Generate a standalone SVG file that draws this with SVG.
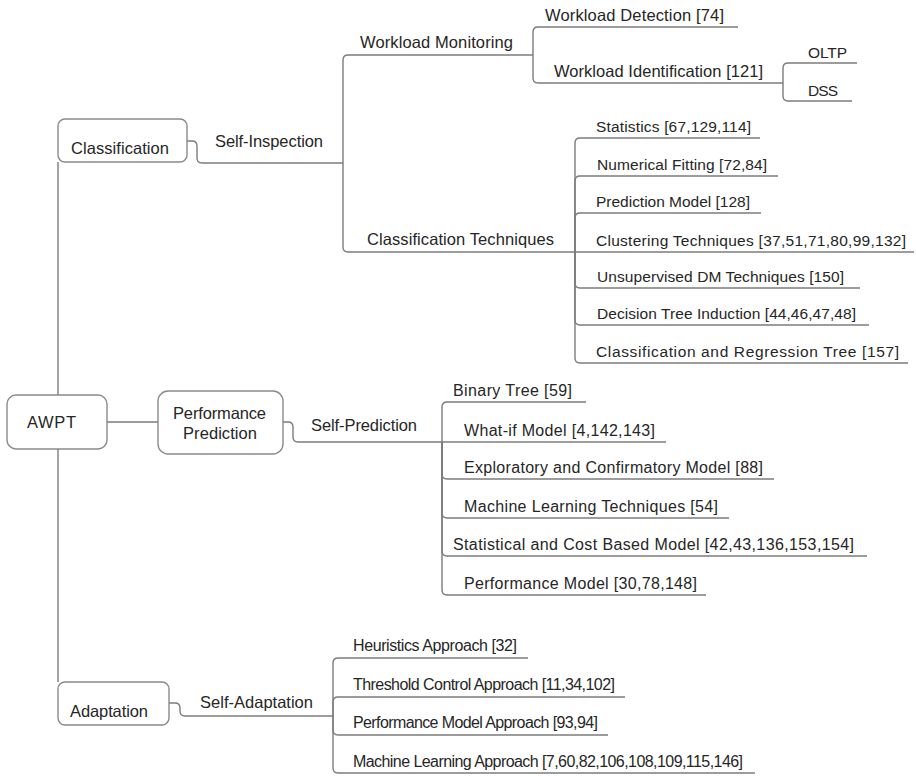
<svg xmlns="http://www.w3.org/2000/svg" width="916" height="776" viewBox="0 0 916 776">
  <style>
    .bg { fill: #ffffff; }
    .box { fill: #ffffff; stroke: #8a8a8a; stroke-width: 1.4; }
    .link { fill: none; stroke: #7c7c7c; stroke-width: 1.4; }
    text { font-family: "Liberation Sans", Arial, sans-serif; fill: #262626; }
    .main { font-size: 16.5px; }
    .leaf { font-size: 15.5px; }
    .mid { font-size: 16px; }
  </style>
  <rect class="bg" x="0" y="0" width="916" height="776"/>

  <!-- connectors -->
  <g id="connectors">
    <!-- trunk -->
    <path class="link" d="M58,162 V395 M58,449 V682 M107,422 H158"/>
    <!-- Classification -> Self-Inspection -->
    <path class="link" d="M187,141 H192 Q197,141 197,146 V158 Q197,163 202,163 H343"/>
    <path class="link" d="M343,163 V60 Q343,55 348,55 H533"/>
    <path class="link" d="M343,163 V247 Q343,252 348,252 H575"/>
    <!-- Workload Monitoring -->
    <path class="link" d="M533,55 V32 Q533,27 538,27 H738"/>
    <path class="link" d="M533,55 V78 Q533,83 538,83 H783"/>
    <!-- Workload Identification -->
    <path class="link" d="M783,83 V68 Q783,63 788,63 H857"/>
    <path class="link" d="M783,83 V96 Q783,101 788,101 H852"/>
    <!-- Classification Techniques -->
    <path class="link" d="M575,252 V143 Q575,138 580,138 H760"/>
    <path class="link" d="M575,252 V181 Q575,176 580,176 H778"/>
    <path class="link" d="M575,252 V218 Q575,213 580,213 H761"/>
    <path class="link" d="M575,252 H914"/>
    <path class="link" d="M575,252 V283 Q575,288 580,288 H860"/>
    <path class="link" d="M575,252 V320 Q575,325 580,325 H869"/>
    <path class="link" d="M575,252 V358 Q575,363 580,363 H908"/>
    <!-- Performance Prediction -> Self-Prediction -->
    <path class="link" d="M283,422 H288 Q293,422 293,427 V437 Q293,442 298,442 H442"/>
    <path class="link" d="M442,442 V407 Q442,402 447,402 H586"/>
    <path class="link" d="M442,442 H666"/>
    <path class="link" d="M442,442 V474 Q442,479 447,479 H774"/>
    <path class="link" d="M442,442 V513 Q442,518 447,518 H729"/>
    <path class="link" d="M442,442 V551 Q442,556 447,556 H867"/>
    <path class="link" d="M442,442 V590 Q442,595 447,595 H706"/>
    <!-- Adaptation -> Self-Adaptation -->
    <path class="link" d="M169,703 H175 Q180,703 180,708 V711 Q180,716 185,716 H333"/>
    <path class="link" d="M333,716 V663 Q333,658 338,658 H528"/>
    <path class="link" d="M333,716 V702 Q333,697 338,697 H625"/>
    <path class="link" d="M333,716 V730 Q333,735 338,735 H608"/>
    <path class="link" d="M333,716 V768 Q333,773 338,773 H755"/>
  </g>

  <!-- root -->
  <g id="awpt">
    <rect class="box" x="7" y="395" width="100" height="54" rx="9"/>
    <text class="main" x="27" y="428" textLength="49">AWPT</text>
  </g>

  <!-- first level -->
  <g id="classification">
    <rect class="box" x="58" y="119" width="129" height="43" rx="7"/>
    <text class="main" x="71" y="154" textLength="98">Classification</text>
  </g>
  <g id="performance-prediction">
    <rect class="box" x="158" y="391" width="125" height="63" rx="10"/>
    <text class="main" x="173" y="419" textLength="93">Performance</text>
    <text class="main" x="183" y="439" textLength="74">Prediction</text>
  </g>
  <g id="adaptation">
    <rect class="box" x="58" y="682" width="111" height="43" rx="7"/>
    <text class="main" x="70" y="717" textLength="78">Adaptation</text>
  </g>

  <!-- second level -->
  <g id="self-inspection"><text class="main" x="215" y="147" textLength="108">Self-Inspection</text></g>
  <g id="self-prediction"><text class="main" x="311" y="431" textLength="106">Self-Prediction</text></g>
  <g id="self-adaptation"><text class="main" x="200" y="708" textLength="113">Self-Adaptation</text></g>

  <!-- Self-Inspection branches -->
  <g id="workload-monitoring"><text class="main" x="360" y="48" textLength="153">Workload Monitoring</text></g>
  <g id="classification-techniques"><text class="main" x="367" y="245" textLength="187">Classification Techniques</text></g>
  <g id="workload-detection"><text class="main" x="545" y="21" textLength="179">Workload Detection [74]</text></g>
  <g id="workload-identification"><text class="main" x="554" y="77" textLength="209">Workload Identification [121]</text></g>
  <g id="oltp"><text class="leaf" x="808" y="58" textLength="39">OLTP</text></g>
  <g id="dss"><text class="leaf" x="808" y="96" textLength="30">DSS</text></g>

  <!-- Classification Techniques leaves -->
  <g id="statistics"><text class="leaf" x="596" y="132" textLength="155">Statistics [67,129,114]</text></g>
  <g id="numerical-fitting"><text class="leaf" x="597" y="170" textLength="170">Numerical Fitting [72,84]</text></g>
  <g id="prediction-model"><text class="leaf" x="596" y="207" textLength="154">Prediction Model [128]</text></g>
  <g id="clustering"><text class="leaf" x="596" y="246" textLength="310">Clustering Techniques [37,51,71,80,99,132]</text></g>
  <g id="unsupervised"><text class="leaf" x="597" y="282" textLength="247">Unsupervised DM Techniques [150]</text></g>
  <g id="decision-tree"><text class="leaf" x="597" y="319" textLength="259">Decision Tree Induction [44,46,47,48]</text></g>
  <g id="cart"><text class="leaf" x="596" y="357" textLength="303">Classification and Regression Tree [157]</text></g>

  <!-- Self-Prediction leaves -->
  <g id="binary-tree"><text class="mid" x="453" y="396" textLength="119">Binary Tree [59]</text></g>
  <g id="what-if"><text class="mid" x="464" y="436" textLength="191">What-if Model [4,142,143]</text></g>
  <g id="exploratory"><text class="mid" x="464" y="473" textLength="299">Exploratory and Confirmatory Model [88]</text></g>
  <g id="ml-techniques"><text class="mid" x="464" y="512" textLength="254">Machine Learning Techniques [54]</text></g>
  <g id="statistical-cost"><text class="mid" x="453" y="550" textLength="401">Statistical and Cost Based Model [42,43,136,153,154]</text></g>
  <g id="performance-model"><text class="mid" x="464" y="589" textLength="233">Performance Model [30,78,148]</text></g>

  <!-- Self-Adaptation leaves -->
  <g id="heuristics"><text class="mid" x="353" y="651" textLength="164">Heuristics Approach [32]</text></g>
  <g id="threshold"><text class="mid" x="353" y="690" textLength="262">Threshold Control Approach [11,34,102]</text></g>
  <g id="perf-model-approach"><text class="mid" x="353" y="728" textLength="245">Performance Model Approach [93,94]</text></g>
  <g id="ml-approach"><text class="mid" x="353" y="767" textLength="390">Machine Learning Approach [7,60,82,106,108,109,115,146]</text></g>
</svg>
